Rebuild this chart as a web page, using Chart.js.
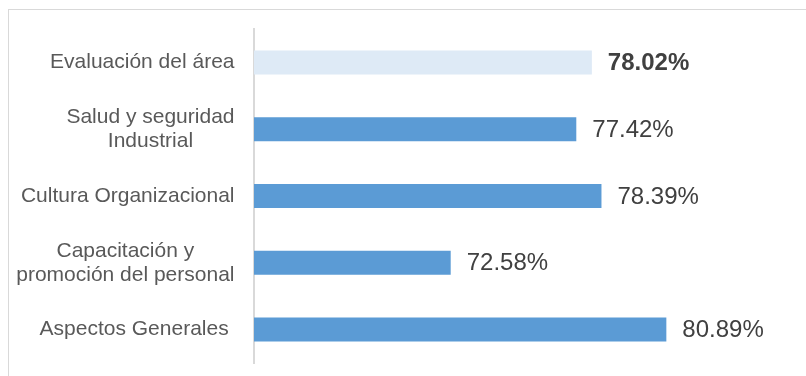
<!DOCTYPE html>
<html>
<head>
<meta charset="utf-8">
<script src="https://cdn.jsdelivr.net/npm/chart.js@4"></script>
<style>
    html, body { margin: 0; padding: 0; background: #fff; }
    #wrap { position: relative; width: 806px; height: 376px; }
    #frame {
        position: absolute; left: 8px; top: 9px; width: 798px; height: 367px;
        border-top: 1px solid #d9d9d9; border-left: 1px solid #d9d9d9;
        box-sizing: border-box;
    }
    #grafico { position: absolute; left: 0; top: 0; }
</style>
</head>
<body>
<div id="wrap">
    <div id="frame"></div>
    <canvas id="grafico" width="806" height="376"></canvas>
</div>
<script>
// categorias (cada una partida en lineas) y porcentajes
var categorias = [
    ['Evaluación del área'],
    ['Salud y seguridad', 'Industrial'],
    ['Cultura Organizacional'],
    ['Capacitación y', 'promoción del personal'],
    ['Aspectos Generales ']
];
var porcentajes = [78.02, 77.42, 78.39, 72.58, 80.89];
var colores = ['#deeaf6', '#5b9bd5', '#5b9bd5', '#5b9bd5', '#5b9bd5'];
var ejeMin = 65;
var ejeMax = 85;

var fuente = "'Liberation Sans', Arial, sans-serif";

// etiquetas de categoria: bloque alineado a la derecha, lineas centradas
var etiquetasCategorias = {
    id: 'etiquetasCategorias',
    afterDraw: function(chart) {
        var ctx = chart.ctx;
        var y = chart.scales.y;
        var derecha = chart.chartArea.left - 19.5;
        ctx.save();
        ctx.font = '21px ' + fuente;
        ctx.fillStyle = '#595959';
        ctx.textAlign = 'center';
        ctx.textBaseline = 'middle';
        for (var i = 0; i < categorias.length; i++) {
            var lineas = categorias[i];
            var ancho = 0;
            for (var j = 0; j < lineas.length; j++) {
                ancho = Math.max(ancho, ctx.measureText(lineas[j]).width);
            }
            var centro = y.getPixelForTick(i);
            var inicio = centro - (lineas.length - 1) * 24 / 2;
            for (var j = 0; j < lineas.length; j++) {
                ctx.fillText(lineas[j], derecha - ancho / 2, inicio + j * 24);
            }
        }
        ctx.restore();
    }
};

// valores al final de cada barra
var etiquetasValores = {
    id: 'etiquetasValores',
    afterDatasetsDraw: function(chart) {
        var ctx = chart.ctx;
        var barras = chart.getDatasetMeta(0).data;
        ctx.save();
        ctx.fillStyle = '#404040';
        ctx.textAlign = 'left';
        ctx.textBaseline = 'middle';
        for (var i = 0; i < barras.length; i++) {
            ctx.font = (i === 0 ? 'bold ' : '') + '24px ' + fuente;
            ctx.fillText(porcentajes[i].toFixed(2) + '%', barras[i].x + 16, barras[i].y + 1);
        }
        ctx.restore();
    }
};

new Chart(document.getElementById('grafico'), {
    type: 'bar',
    data: {
        labels: categorias,
        datasets: [{
            data: porcentajes,
            backgroundColor: colores,
            borderWidth: 0,
            categoryPercentage: 1,
            barPercentage: 0.36
        }]
    },
    options: {
        indexAxis: 'y',
        responsive: false,
        animation: false,
        layout: {
            padding: { left: 254, right: 33, top: 29, bottom: 13 }
        },
        scales: {
            x: {
                display: false,
                min: ejeMin,
                max: ejeMax
            },
            y: {
                ticks: { display: false },
                grid: { display: false, drawTicks: false },
                border: { display: true, color: '#d9d9d9', width: 2 }
            }
        },
        plugins: {
            legend: { display: false },
            tooltip: { enabled: false }
        }
    },
    plugins: [etiquetasCategorias, etiquetasValores]
});
</script>
</body>
</html>
